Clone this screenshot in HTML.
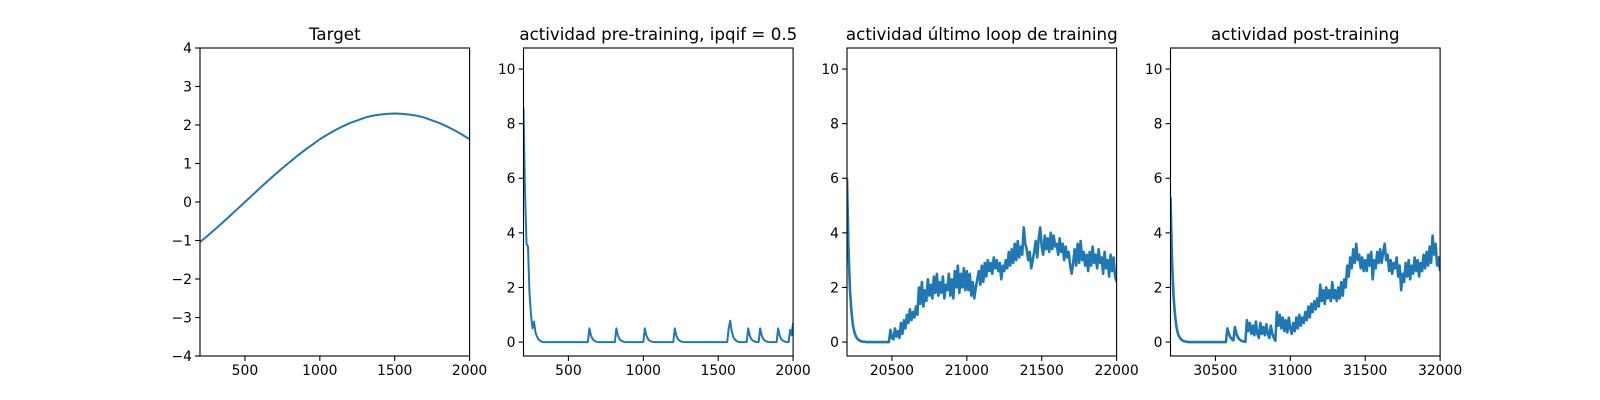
<!DOCTYPE html>
<html><head><meta charset="utf-8"><style>
html,body{margin:0;padding:0;background:#fff;}
svg{display:block;font-family:"DejaVu Sans","Liberation Sans",sans-serif;}
</style></head><body>
<svg id="fig" width="1600" height="400" xmlns="http://www.w3.org/2000/svg"></svg>
<script>
const targetX = [200,250,300,350,400,450,500,550,600,650,700,750,800,850,900,950,1000,1050,1100,1150,1200,1250,1300,1350,1400,1450,1500,1550,1600,1650,1700,1750,1800,1850,1900,1950,2000];
const targetY = [-1.04,-0.88,-0.71,-0.54,-0.36,-0.18,0,0.18,0.36,0.54,0.71,0.88,1.04,1.20,1.35,1.49,1.63,1.75,1.86,1.96,2.05,2.12,2.19,2.24,2.27,2.29,2.30,2.29,2.27,2.24,2.19,2.12,2.05,1.96,1.86,1.75,1.63];
const preStart = 200;
const preVals = [
8.6,5.5,3.6,3.5,1.8,1.0,0.5,0.75,0.35,0.2,
0.1,0.05,0.02,0,0,0,0,0,0,0,
0,0,0,0,0,0,0,0,0,0,
0,0,0,0,0,0,0,0,0,0,
0,0,0,0,0.5,0.25,0.12,0.06,0.03,0.01,
0,0,0,0,0,0,0,0,0,0,
0,0,0.5,0.25,0.12,0.06,0.03,0.01,0,0,
0,0,0,0,0,0,0,0,0,0,
0,0.5,0.25,0.12,0.06,0.03,0.01,0,0,0,
0,0,0,0,0,0,0,0,0,0,
0,0.5,0.25,0.12,0.06,0.03,0.01,0,0,0,
0,0,0,0,0,0,0,0,0,0,
0,0,0,0,0,0,0,0,0,0,
0,0,0,0,0,0,0,0.5,0.78,0.4,
0.2,0.1,0.05,0.02,0,0,0,0,0,0,
0.5,0.25,0.12,0.06,0.03,0.01,0,0,0.5,0.25,
0.12,0.06,0.03,0.01,0,0,0,0,0,0,
0.5,0.25,0.12,0.06,0.03,0.01,0,0,0.45,0.25,
0.7];
const lastStart = 20200;
const lastVals = [
6.0,3.4,1.9,1.1,0.6,0.35,0.2,0.12,0.07,0.04,
0.02,0.01,0.01,0,0,0,0,0,0,0,
0,0,0,0,0,0,0,0,0,0.45,
0.15,0.1,0.5,0.2,0.4,0.15,0.7,0.3,0.8,0.5,
1.0,0.7,1.2,0.8,1.1,0.9,1.3,1.0,2.0,1.4,
2.2,1.3,1.9,1.5,2.3,1.7,2.1,1.6,2.4,1.8,
2.5,1.7,2.2,1.8,2.4,1.6,2.1,1.9,2.5,1.7,
2.3,1.6,2.6,2.0,2.8,1.8,2.5,2.0,2.7,1.9,
2.6,1.9,2.5,1.7,2.2,1.6,2.0,2.3,2.6,2.1,
2.8,2.2,2.9,2.4,3.0,2.6,2.9,2.5,3.1,2.7,
3.0,2.6,2.9,2.3,2.8,2.6,3.0,2.7,3.3,2.8,
3.4,2.9,3.6,3.0,3.7,3.1,3.5,3.2,4.2,3.6,
3.4,3.0,3.3,2.7,3.0,3.3,3.7,3.1,3.8,4.2,
3.5,3.2,3.9,3.4,3.8,3.3,4.0,3.4,3.9,3.5,
3.6,3.2,3.8,3.3,3.6,3.0,3.5,3.1,3.3,2.8,
2.5,2.9,3.4,2.8,3.6,2.9,3.7,3.0,3.3,2.8,
3.2,2.6,3.3,2.8,3.5,2.9,3.2,2.7,3.4,2.9,
3.1,2.5,3.3,2.7,3.0,2.4,3.2,2.6,3.1,2.4,
2.2];
const postStart = 30200;
const postVals = [
5.3,3.0,1.7,1.0,0.55,0.3,0.18,0.1,0.06,0.03,
0.02,0.01,0,0,0,0,0,0,0,0,
0,0,0,0,0,0,0,0,0,0,
0,0,0,0,0,0,0,0,0.5,0.3,
0.18,0.1,0.06,0.55,0.3,0.18,0.1,0.06,0.03,0.02,
0.01,0.8,0.4,0.7,0.3,0.6,0.25,0.75,0.3,0.15,
0.7,0.3,0.55,0.25,0.65,0.3,0.15,0.6,0.3,0.15,
0.05,1.1,0.6,1.0,0.5,0.9,0.4,0.8,0.35,0.9,
0.5,0.3,0.7,0.4,0.9,0.5,1.0,0.6,0.9,0.7,
1.1,0.8,1.3,0.9,1.4,1.1,1.5,1.2,1.6,1.3,
2.1,1.5,1.9,1.4,2.0,1.6,1.9,1.5,2.2,1.6,
1.9,1.5,2.0,1.6,2.2,1.7,2.3,2.0,2.8,2.4,
3.1,2.7,3.4,2.9,3.6,3.0,3.2,2.7,3.1,2.6,
3.0,2.6,3.2,2.8,3.3,2.3,3.0,2.7,3.3,2.9,
3.4,2.9,3.3,3.6,3.0,3.2,2.6,3.0,2.5,2.9,
2.7,3.1,2.4,2.8,1.9,2.5,2.2,2.9,2.4,3.0,
2.3,2.8,2.5,3.1,2.6,3.0,2.4,2.9,2.6,3.2,
2.7,3.3,2.8,3.5,2.9,3.9,3.2,3.6,2.8,3.1,
2.6];
const titles = ["Target","actividad pre-training, ipqif = 0.5","actividad último loop de training","actividad post-training"];
const xTicks1 = [500,1000,1500,2000];
const xTicks3 = [20500,21000,21500,22000];
const xTicks4 = [30500,31000,31500,32000];
const yTicksTarget = [-4,-3,-2,-1,0,1,2,3,4];
const yTicksAct = [0,2,4,6,8,10];

const NS="http://www.w3.org/2000/svg";
const svg=document.getElementById('fig');
function el(t,a,p){const e=document.createElementNS(NS,t);for(const k in a)e.setAttribute(k,a[k]);(p||svg).appendChild(e);return e;}
const TOP=48,BOT=356,W=269.6,STEP=323.5;

function panel(i,xmin,xmax,ymin,ymax,xs,ys,xt,yt,name,sw){
  const L=200+i*STEP,R=L+W;
  const sx=v=>L+(v-xmin)/(xmax-xmin)*W;
  const sy=v=>BOT-(v-ymin)/(ymax-ymin)*(BOT-TOP);
  const g=el('g',{});
  
  
  const cp=el('clipPath',{id:'cp'+i},g);
  el('rect',{x:L,y:TOP,width:W,height:BOT-TOP},cp);
  let d='';
  for(let k=0;k<xs.length;k++){d+=(k?'L':'M')+sx(xs[k]).toFixed(2)+' '+sy(ys[k]).toFixed(2);}
  const line=el('path',{d:d,fill:'none',stroke:'#1f77b4','stroke-width':sw,'stroke-linejoin':'round','clip-path':'url(#cp'+i+')'},g);
  
  
  const fr=el('rect',{x:L,y:TOP,width:W,height:BOT-TOP,fill:'none',stroke:'#000','stroke-width':1.1},g);
  
  
  xt.forEach(v=>{const x=sx(v);
    el('line',{x1:x,x2:x,y1:BOT,y2:BOT+4.9,stroke:'#000','stroke-width':1.1},g);
    const t=el('text',{x:x,y:BOT+19,'text-anchor':'middle','font-size':13.9,fill:'#000'},g);
    t.textContent=v;
    
    
  });
  yt.forEach(v=>{const y=sy(v);
    el('line',{x1:L-4.9,x2:L,y1:y,y2:y,stroke:'#000','stroke-width':1.1},g);
    const t=el('text',{x:L-8,y:y+5,'text-anchor':'end','font-size':13.9,fill:'#000'},g);
    t.textContent=v<0?'\u2212'+Math.abs(v):String(v);
    
    
  });
  const tt=el('text',{x:L+W/2,y:TOP-8,'text-anchor':'middle','font-size':16.7,fill:'#000'},g);
  tt.textContent=titles[i];
  
  
}
const seq=(s,n)=>{const a=[];for(let k=0;k<n;k++)a.push(s+k*10);return a;};
panel(0,200,2000,-4,4,targetX,targetY,xTicks1,yTicksTarget,'target',2);
panel(1,200,2000,-0.51,10.77,seq(preStart,preVals.length),preVals,xTicks1,yTicksAct,'pre-training',2);
panel(2,20200,22000,-0.51,10.77,seq(lastStart,lastVals.length),lastVals,xTicks3,yTicksAct,'last-loop',2.6);
panel(3,30200,32000,-0.51,10.77,seq(postStart,postVals.length),postVals,xTicks4,yTicksAct,'post-training',2.6);
</script>
</body></html>
